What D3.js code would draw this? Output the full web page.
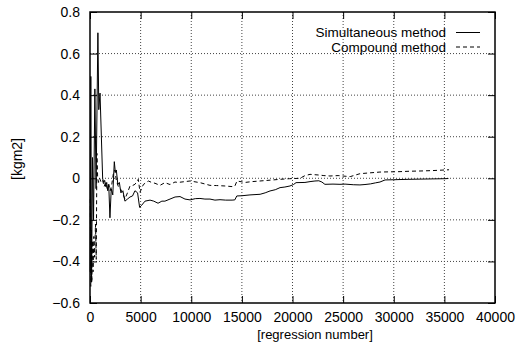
<!DOCTYPE html>
<html>
<head>
<meta charset="utf-8">
<script src="https://cdn.jsdelivr.net/npm/d3@7"></script>
<style>
  body { margin: 0; background: #fff; }
  text { font-family: "Liberation Sans", Arial, sans-serif; fill: #000; }
</style>
</head>
<body>
<div id="chart"></div>
<script>
const width = 524,
  height = 345;
const margin = {top: 12, right: 29, bottom: 42, left: 90};

// regression number / value pairs
const simX = [20, 80, 150, 250, 350, 480, 600, 780, 870, 990, 1250, 1350, 1450, 1550, 1650, 1750, 1850, 1970, 2100, 2250, 2400, 2500, 2600, 2750, 2900, 3050, 3250, 3450, 3700, 3950, 4200, 4440, 4700, 4900, 5100, 5430, 5930, 6300, 6720, 7100, 7400, 7900, 8400, 8890, 9380, 9880, 10400, 10860, 11350, 11850, 12340, 12840, 13400, 14030, 14300, 14500, 15000, 15800, 16800, 17300, 17780, 18300, 18770, 19250, 19750, 20100, 20350, 21230, 21730, 22220, 22600, 22900, 23200, 24000, 24690, 25190, 26000, 26660, 27160, 27700, 28200, 28640, 29140, 30000, 30620, 31500, 32590, 33800, 35060, 35400];
const simY = [-0.45, 0.49, -0.5, 0.1, -0.2, 0.43, -0.05, 0.70, 0.33, 0.41, 0.0, -0.02, -0.01, -0.04, -0.02, -0.06, -0.03, -0.19, -0.05, -0.08, 0.08, 0.03, 0.04, -0.03, -0.02, -0.07, -0.06, -0.11, -0.10, -0.09, -0.085, -0.06, -0.07, -0.14, -0.13, -0.11, -0.105, -0.11, -0.12, -0.11, -0.11, -0.10, -0.09, -0.088, -0.1, -0.104, -0.098, -0.097, -0.1, -0.1, -0.105, -0.103, -0.105, -0.105, -0.104, -0.085, -0.084, -0.08, -0.077, -0.07, -0.061, -0.055, -0.045, -0.042, -0.037, -0.03, -0.021, -0.02, -0.016, -0.013, -0.012, -0.018, -0.029, -0.028, -0.029, -0.028, -0.031, -0.032, -0.03, -0.027, -0.022, -0.018, -0.008, -0.007, -0.006, -0.005, -0.004, -0.003, -0.002, -0.001];

const compX = [30, 80, 130, 180, 240, 300, 380, 460, 540, 620, 680, 760, 850, 950, 1100, 1250, 1400, 1550, 1700, 1850, 2000, 2150, 2300, 2450, 2600, 2800, 3000, 3200, 3450, 3700, 3950, 4200, 4440, 4770, 4940, 5270, 5760, 6090, 6420, 6910, 7400, 7900, 8395, 8690, 9380, 9880, 10860, 11850, 12500, 13330, 14030, 14300, 14520, 15310, 16000, 16790, 17800, 18770, 19700, 20740, 21200, 21730, 22520, 23100, 23700, 24500, 25190, 25700, 26660, 27600, 28640, 29600, 30620, 31600, 32590, 33800, 35060, 35460];
const compY = [-0.1, -0.52, -0.25, -0.5, -0.3, -0.45, -0.28, -0.38, -0.22, -0.39, 0.12, 0.0, -0.02, 0.0, -0.02, -0.01, -0.04, -0.02, -0.05, -0.03, -0.06, -0.03, 0.02, 0.04, -0.01, -0.04, -0.05, -0.07, -0.1, -0.07, -0.037, -0.035, -0.029, -0.005, -0.067, -0.03, -0.013, -0.02, -0.024, -0.034, -0.021, -0.03, -0.018, -0.02, -0.016, -0.013, -0.021, -0.034, -0.035, -0.037, -0.04, -0.038, -0.013, -0.02, -0.016, -0.013, -0.009, -0.005, -0.002, 0.0, 0.012, 0.019, 0.016, 0.013, 0.011, 0.013, 0.01, 0.008, 0.022, 0.026, 0.03, 0.031, 0.032, 0.034, 0.035, 0.037, 0.04, 0.041];

const xTicks = [0, 5000, 10000, 15000, 20000, 25000, 30000, 35000, 40000];
const yTicks = [-0.6, -0.4, -0.2, 0, 0.2, 0.4, 0.6, 0.8];
const seriesNames = ["Simultaneous method", "Compound method"];

const svg = d3.select("#chart")
  .append("svg")
  .attr("width", width)
  .attr("height", height);

const x = d3.scaleLinear()
  .domain([0, 40000])
  .range([margin.left, width - margin.right]);

const y = d3.scaleLinear()
  .domain([-0.6, 0.8])
  .range([height - margin.bottom, margin.top]);

const plotTop = margin.top, plotBottom = height - margin.bottom;
const plotLeft = margin.left, plotRight = width - margin.right;

// dotted grid
svg.append("g")
  .selectAll("line")
  .data(xTicks.slice(1, -1))
  .join("line")
  .attr("x1", d => x(d)).attr("x2", d => x(d))
  .attr("y1", plotTop).attr("y2", plotBottom)
  .attr("stroke", "#444")
  .attr("stroke-dasharray", "1,2");

svg.append("g")
  .selectAll("line")
  .data(yTicks.slice(1, -1))
  .join("line")
  .attr("y1", d => y(d)).attr("y2", d => y(d))
  .attr("x1", plotLeft).attr("x2", plotRight)
  .attr("stroke", "#444")
  .attr("stroke-dasharray", "1,2");

// axes with inward ticks, mirrored like gnuplot
const fmtY = d => d === 0 ? "0" : d3.format(".1f")(d);

svg.append("g")
  .attr("transform", `translate(0,${plotBottom})`)
  .call(d3.axisBottom(x).tickValues(xTicks).tickSizeInner(-7).tickSizeOuter(0).tickPadding(9).tickFormat(d3.format("d")))
  .call(g => g.select(".domain").remove());

svg.append("g")
  .attr("transform", `translate(0,${plotTop})`)
  .call(d3.axisTop(x).tickValues(xTicks).tickSizeInner(-7).tickSizeOuter(0).tickFormat(""))
  .call(g => g.select(".domain").remove());

svg.append("g")
  .attr("transform", `translate(${plotLeft},0)`)
  .call(d3.axisLeft(y).tickValues(yTicks).tickSizeInner(-7).tickSizeOuter(0).tickPadding(10).tickFormat(fmtY))
  .call(g => g.select(".domain").remove());

svg.append("g")
  .attr("transform", `translate(${plotRight},0)`)
  .call(d3.axisRight(y).tickValues(yTicks).tickSizeInner(-7).tickSizeOuter(0).tickFormat(""))
  .call(g => g.select(".domain").remove());

svg.selectAll(".tick line").attr("stroke", "#000");
svg.selectAll(".tick text")
  .attr("font-family", "Liberation Sans, Arial, sans-serif")
  .attr("font-size", 14)
  .attr("fill", "#000");

// series
const line = d3.line()
  .x(d => x(d[0]))
  .y(d => y(d[1]));

const simData = d3.zip(simX, simY);
const compData = d3.zip(compX, compY);

svg.append("path")
  .datum(compData)
  .attr("d", line)
  .attr("fill", "none")
  .attr("stroke", "#000")
  .attr("stroke-width", 1)
  .attr("stroke-dasharray", "4,3");

svg.append("path")
  .datum(simData)
  .attr("d", line)
  .attr("fill", "none")
  .attr("stroke", "#000")
  .attr("stroke-width", 1);

// frame
svg.append("rect")
  .attr("x", plotLeft).attr("y", plotTop)
  .attr("width", plotRight - plotLeft).attr("height", plotBottom - plotTop)
  .attr("fill", "none")
  .attr("stroke", "#000")
  .attr("stroke-width", 1.5);

// legend
const legend = svg.append("g");
seriesNames.forEach((name, i) => {
  const ly = 32.5 + i * 14.5;
  legend.append("text")
    .attr("x", 446)
    .attr("y", ly)
    .attr("dy", "0.35em")
    .attr("text-anchor", "end")
    .attr("font-size", 13.5)
    .text(name);
  legend.append("line")
    .attr("x1", 456).attr("x2", 480)
    .attr("y1", ly).attr("y2", ly)
    .attr("stroke", "#000")
    .attr("stroke-dasharray", i === 1 ? "4,3" : null);
});

// axis labels
svg.append("text")
  .attr("x", 315)
  .attr("y", 339)
  .attr("text-anchor", "middle")
  .attr("font-size", 13)
  .text("[regression number]");

svg.append("text")
  .attr("transform", "translate(22,159) rotate(-90)")
  .attr("text-anchor", "middle")
  .attr("font-size", 14)
  .text("[kgm2]");
</script>
</body>
</html>
